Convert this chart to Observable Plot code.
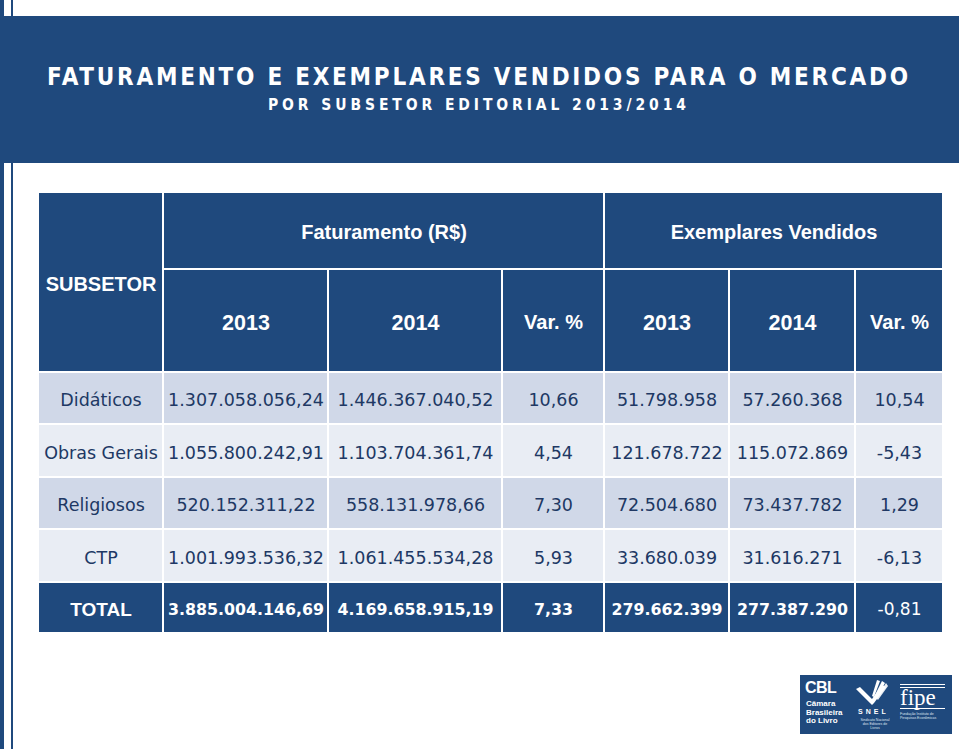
<!DOCTYPE html>
<html>
<head>
<meta charset="utf-8">
<script src="https://cdn.jsdelivr.net/npm/d3@7"></script>
<script src="https://cdn.jsdelivr.net/npm/@observablehq/plot@0.6"></script>
<style>
html,body{margin:0;padding:0;background:#fff;}
#page{position:relative;width:959px;height:749px;overflow:hidden;background:#fff;}
.stripe{position:absolute;top:0;height:749px;background:#1f497d;}
#banner{position:absolute;left:0;top:16px;width:959px;height:147px;background:#1f497d;}
.ttl{position:absolute;color:#fff;white-space:nowrap;font-family:"Liberation Sans Narrow","DejaVu Sans Condensed","Liberation Sans",sans-serif;font-weight:bold;}
#title{left:47px;top:48.7px;font-size:24px;line-height:24px;}
#subtitle{left:268px;top:82px;font-size:15.5px;line-height:15.5px;}
#chart{position:absolute;left:0;top:163px;}
#logo{position:absolute;left:800px;top:675px;width:152px;height:59px;background:#1f497d;color:#fff;font-family:"Liberation Sans",Arial,sans-serif;}
#logo .cblbig{position:absolute;left:5px;top:5px;font-size:16px;font-weight:bold;letter-spacing:-0.5px;line-height:16px;}
#logo .cblsmall{position:absolute;left:6px;top:25px;font-size:8px;line-height:8.5px;font-weight:bold;}
#logo .snelt{position:absolute;left:58px;top:33px;font-size:7px;font-weight:bold;letter-spacing:3px;line-height:8px;}
#logo .tiny{position:absolute;font-size:3.5px;line-height:4px;color:#dfe6f0;}
#logo .fipeword{position:absolute;left:100px;top:11px;font-family:"Liberation Serif","DejaVu Serif",serif;font-size:23px;line-height:23px;}
#logo .fline{position:absolute;left:100px;width:45px;height:1px;background:#fff;}
</style>
</head>
<body>
<div id="page">
  <div id="banner">
    <div class="ttl" id="title">FATURAMENTO E EXEMPLARES VENDIDOS PARA O MERCADO</div>
    <div class="ttl" id="subtitle">POR SUBSETOR EDITORIAL 2013/2014</div>
  </div>
  <div class="stripe" style="left:0;width:4px;"></div>
  <div class="stripe" style="left:11px;width:2px;"></div>
  <div id="chart"></div>
  <div id="logo">
    <div class="cblbig">CBL</div>
    <div class="cblsmall">Câmara<br>Brasileira<br>do Livro</div>
    <svg style="position:absolute;left:52px;top:4px" width="40" height="28" viewBox="0 0 40 28">
      <path d="M4 10 L18 24 L20 26 L22 24 L34 8 L30 6 L20 20 L8 8 Z" fill="#fff"/>
      <path d="M22 18 L30 2 L33 4 L24 20 Z" fill="#fff"/>
      <path d="M24 19 L34 4 L36 7 L26 21 Z" fill="#fff" opacity="0.9"/>
      <path d="M20 17 L25 1 L28 2 L22 18 Z" fill="#fff"/>
    </svg>
    <div class="snelt">SNEL</div>
    <div class="tiny" style="left:58px;top:43px;width:34px;text-align:center;">Sindicato Nacional<br>dos Editores de Livros</div>
    <div class="fline" style="top:9px;"></div>
    <div class="fline" style="top:12px;"></div>
    <div class="fipeword">fipe</div>
    <div class="fline" style="top:33px;"></div>
    <div class="tiny" style="left:100px;top:37px;width:46px;">Fundação Instituto de<br>Pesquisas Econômicas</div>
  </div>
</div>
<script>
// ---- DATA ----
const stubHeader = "SUBSETOR";
const groupHeaders = ["Faturamento (R$)", "Exemplares Vendidos"];
const subHeaders = ["2013", "2014", "Var. %"];
const subsetores = ["Didáticos", "Obras Gerais", "Religiosos", "CTP", "TOTAL"];
const fat2013 = [1307058056.24, 1055800242.91, 520152311.22, 1001993536.32, 3885004146.69];
const fat2014 = [1446367040.52, 1103704361.74, 558131978.66, 1061455534.28, 4169658915.19];
const fatVar = [10.66, 4.54, 7.30, 5.93, 7.33];
const ex2013 = [51798958, 121678722, 72504680, 33680039, 279662399];
const ex2014 = [57260368, 115072869, 73437782, 31616271, 277387290];
const exVar = [10.54, -5.43, 1.29, -6.13, -0.81];

// ---- LAYOUT (sizes, not data) ----
const colW = [125, 165, 174, 102, 125, 126, 88];
const rowH = [77, 103, 52, 53, 52, 53, 51];
const cum = a => a.reduce((acc, v) => (acc.push(acc[acc.length - 1] + v), acc), [0]);
const colX = cum(colW), rowY = cum(rowH);
const BLUE = "#1f497d", ODD = "#d0d8e8", EVEN = "#e9edf4", NAVY = "#203864";

const loc = d3.formatLocale({decimal: ",", thousands: ".", grouping: [3], currency: ["R$ ", ""], minus: "-"});
const fMoney = loc.format(",.2f"), fInt = loc.format(",d"), fPct = loc.format(".2f");

const cells = [];
cells.push({c0: 0, c1: 1, r0: 0, r1: 2, text: stubHeader, kind: "head", size: 20});
cells.push({c0: 1, c1: 4, r0: 0, r1: 1, text: groupHeaders[0], kind: "head", size: 20});
cells.push({c0: 4, c1: 7, r0: 0, r1: 1, text: groupHeaders[1], kind: "head", size: 20});
for (let j = 0; j < 6; j++) {
  const t = subHeaders[j % 3];
  cells.push({c0: 1 + j, c1: 2 + j, r0: 1, r1: 2, text: t, kind: "head", size: t === "Var. %" ? 20 : 21.5});
}
subsetores.forEach((s, i) => {
  const kind = i === subsetores.length - 1 ? "total" : (i % 2 === 0 ? "odd" : "even");
  const vals = [s, fMoney(fat2013[i]), fMoney(fat2014[i]), fPct(fatVar[i]), fInt(ex2013[i]), fInt(ex2014[i]), fPct(exVar[i])];
  vals.forEach((v, c) => cells.push({c0: c, c1: c + 1, r0: 2 + i, r1: 3 + i, text: v, kind, col: c, size: 17.5}));
});
const fillOf = {head: BLUE, total: BLUE, odd: ODD, even: EVEN};
const cx = d => (colX[d.c0] + colX[d.c1]) / 2;
const cy = d => (rowY[d.r0] + rowY[d.r1]) / 2;

const chart = Plot.plot({
  width: 959,
  height: 586,
  margin: 0,
  x: {domain: [0, colX[colX.length - 1]], range: [38, 943], axis: null},
  y: {domain: [0, rowY[rowY.length - 1]], range: [29, 470], axis: null},
  color: {type: "identity"},
  style: {background: "transparent", overflow: "visible"},
  marks: [
    Plot.rect(cells, {x1: d => colX[d.c0], x2: d => colX[d.c1], y1: d => rowY[d.r0], y2: d => rowY[d.r1],
      fill: d => fillOf[d.kind], stroke: "#ffffff", strokeWidth: 2}),
    Plot.text(cells.filter(d => d.kind === "head"), {x: cx, y: cy, text: "text", fill: "#ffffff", dy: 2,
      fontFamily: "'Liberation Sans', Arial, sans-serif", fontWeight: "bold", fontSize: d => d.size}),
    Plot.text(cells.filter(d => d.kind === "odd" || d.kind === "even"), {x: cx, y: cy, text: "text", fill: NAVY, dy: 2,
      fontFamily: "'DejaVu Sans', sans-serif", fontSize: 17.5}),
    Plot.text(cells.filter(d => d.kind === "total" && d.col === 0), {x: cx, y: cy, text: "text", fill: "#ffffff", dy: 2,
      fontFamily: "'Liberation Sans', Arial, sans-serif", fontWeight: "bold", fontSize: 19}),
    Plot.text(cells.filter(d => d.kind === "total" && d.col > 0 && d.col < 6), {x: cx, y: cy, text: "text", fill: "#ffffff", dy: 2,
      fontFamily: "'DejaVu Sans', sans-serif", fontWeight: "bold", fontSize: 15.8}),
    Plot.text(cells.filter(d => d.kind === "total" && d.col === 6), {x: cx, y: cy, text: "text", fill: "#ffffff", dy: 2,
      fontFamily: "'DejaVu Sans', sans-serif", fontSize: 17})
  ]
});
document.getElementById("chart").appendChild(chart);

// fit title letter-spacing to target widths
function fit(id, target) {
  const el = document.getElementById(id);
  el.style.letterSpacing = "0px";
  const w = el.getBoundingClientRect().width;
  const n = el.textContent.length;
  el.style.letterSpacing = ((target - w) / (n - 1)) + "px";
}
fit("title", 861);
fit("subtitle", 418);
</script>
</body>
</html>
